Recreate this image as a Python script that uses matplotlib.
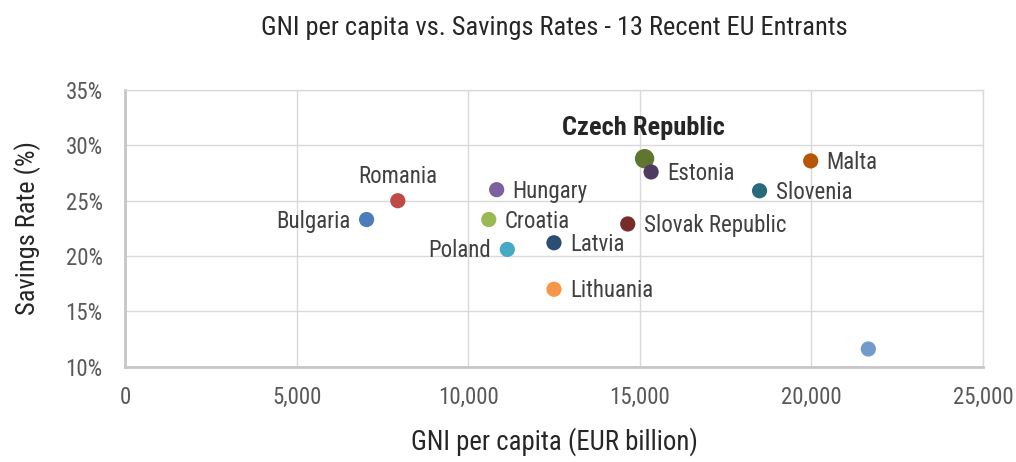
import numpy as np
import matplotlib.pyplot as plt
from matplotlib.ticker import FuncFormatter

plt.rcParams['font.family'] = ['Roboto Condensed', 'DejaVu Sans']

countries = ["Bulgaria", "Romania", "Hungary", "Croatia", "Poland", "Latvia",
             "Lithuania", "Czech Republic", "Estonia", "Slovak Republic",
             "Slovenia", "Malta", ""]
gni = [7040, 7950, 10830, 10600, 11140, 12500, 12500, 15140, 15330, 14650,
       18490, 19980, 21660]
savings = [23.3, 25.0, 26.0, 23.3, 20.6, 21.2, 17.0, 28.8, 27.6, 22.9,
           25.9, 28.6, 11.6]
colors = ["#4a7ebb", "#be4b48", "#7d60a0", "#98b954", "#46aac5", "#2c4d75",
          "#f79646", "#5f7530", "#4d3b62", "#772c2a", "#276a7c", "#b65708",
          "#729aca"]
# label placement: l = left, r = right, t = top
placement = ["l", "t", "r", "r", "l", "r", "r", "t", "r", "r", "r", "r", "r"]

x_ticks = [0, 5000, 10000, 15000, 20000, 25000]
y_ticks = [10, 15, 20, 25, 30, 35]

fig = plt.figure(figsize=(10.16, 4.62), dpi=100)
ax = fig.add_axes([0.123, 0.2063, 0.8445, 0.5987])

for i in range(len(gni)):
    big = countries[i] == "Czech Republic"
    ax.scatter(gni[i], savings[i], s=195 if big else 120, color=colors[i],
               edgecolors="none", zorder=3)
    if not countries[i]:
        continue
    xy = (gni[i], savings[i])
    if big:
        ax.annotate(countries[i], xy, xytext=(-1, 17), textcoords="offset points",
                    ha="center", va="baseline", fontsize=19, fontweight="semibold",
                    color="#262626")
    elif placement[i] == "t":
        ax.annotate(countries[i], xy, xytext=(0, 12.5), textcoords="offset points",
                    ha="center", va="baseline", fontsize=16.5, color="#404040")
    elif placement[i] == "l":
        ax.annotate(countries[i], xy, xytext=(-11.5, -5.8), textcoords="offset points",
                    ha="right", va="baseline", fontsize=16.5, color="#404040")
    else:
        ax.annotate(countries[i], xy, xytext=(11.5, -5.8), textcoords="offset points",
                    ha="left", va="baseline", fontsize=16.5, color="#404040")

ax.set_xlim(0, 25000)
ax.set_ylim(10, 35)
ax.set_xticks(x_ticks)
ax.set_yticks(y_ticks)
ax.xaxis.set_major_formatter(FuncFormatter(lambda v, p: f"{int(v):,}"))
ax.yaxis.set_major_formatter(FuncFormatter(lambda v, p: f"{int(v)}%"))
ax.tick_params(length=0, labelsize=16.5, labelcolor="#595959")
ax.tick_params(axis="x", pad=14)
ax.tick_params(axis="y", pad=16)
ax.grid(True, color="#d9d9d9", linewidth=1.0, zorder=0)
ax.set_axisbelow(True)
for side in ["top", "right"]:
    ax.spines[side].set_color("#d9d9d9")
    ax.spines[side].set_linewidth(1.0)
for side in ["left", "bottom"]:
    ax.spines[side].set_color("#c6c6c6")
    ax.spines[side].set_linewidth(2.0)

ax.set_xlabel("GNI per capita (EUR billion)", fontsize=19.4, color="#262626",
              labelpad=13)
ax.set_ylabel("Savings Rate (%)", fontsize=19, color="#262626", labelpad=18)
fig.text(0.546, 0.94, "GNI per capita vs. Savings Rates - 13 Recent EU Entrants",
         ha="center", va="center", fontsize=19, color="#262626")

fig.savefig("out.png", dpi=100)
